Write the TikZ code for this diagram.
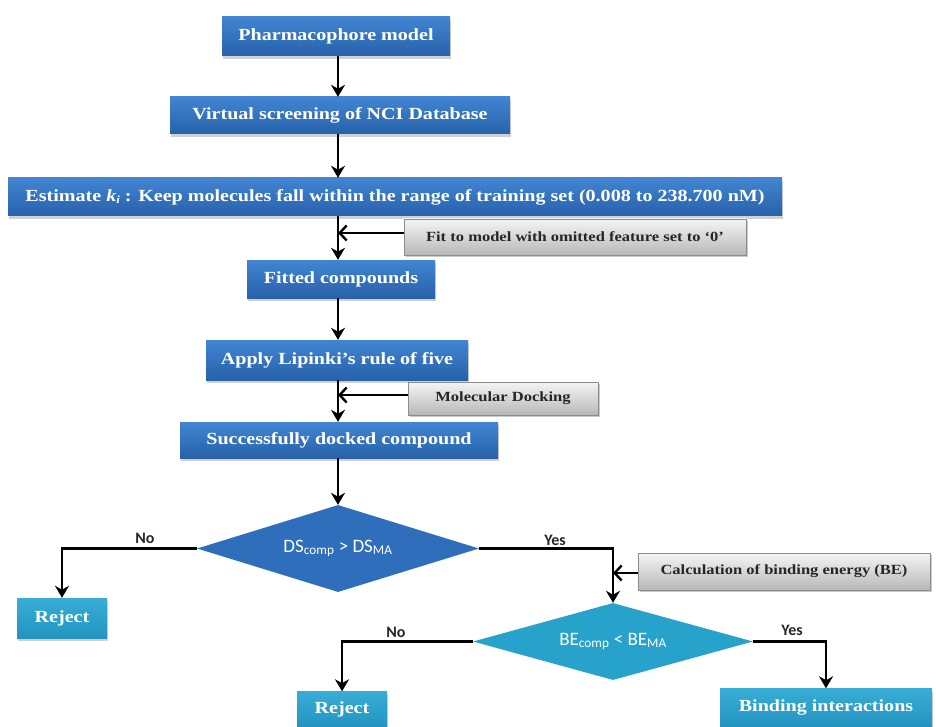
\documentclass[tikz,border=0pt]{standalone}
\usepackage{fontspec}
\setmainfont{Liberation Serif}
\newfontfamily\carlfont{Carlito}
\newfontfamily\widefont[FakeStretch=1.18,Ligatures=TeX]{Liberation Serif}
\usetikzlibrary{shapes.geometric,arrows.meta,shadows}
\definecolor{bluetop}{HTML}{4285D2}
\definecolor{bluebot}{HTML}{2761AA}
\definecolor{dsblue}{HTML}{2F6EBB}
\definecolor{cyantop}{HTML}{38ADD6}
\definecolor{cyanbot}{HTML}{2394C0}
\definecolor{becyan}{HTML}{27A3CB}
\definecolor{greyedge}{HTML}{8C8C8C}
\begin{document}
\begin{tikzpicture}[x=1pt,y=1pt,
  mainbox/.style={rectangle, inner sep=0pt, top color=bluetop, bottom color=bluebot,
    text=white, font=\widefont\bfseries\fontsize{17}{17}\selectfont,
    drop shadow={shadow xshift=1pt, shadow yshift=-3pt, opacity=0.3, fill=black!60}},
  cyanbox/.style={mainbox, top color=cyantop, bottom color=cyanbot},
  greybox/.style={rectangle, inner sep=0pt, draw=greyedge, line width=0.8pt,
    top color=black!4, bottom color=black!28, text=black!85,
    font=\widefont\bfseries\fontsize{14}{14}\selectfont,
    drop shadow={shadow xshift=1.5pt, shadow yshift=-2pt, opacity=0.35, fill=black!60}},
  decision/.style={diamond, inner sep=0pt, draw=none},
  dtext/.style={inner sep=0pt, text=white, font=\carlfont\fontsize{19}{19}\selectfont},
  arr/.style={line width=2.4pt, -{Stealth[length=12pt,width=14pt]}},
  sidearr/.style={line width=2.4pt, -{Straight Barb[length=7pt,width=15pt,line width=2.4pt]}},
  lbl/.style={font=\carlfont\bfseries\fontsize{16}{16}\selectfont, text=black!85, inner sep=0pt}
]
\useasboundingbox (0,0) rectangle (936,-727);

\node[mainbox, minimum width=228, minimum height=39] (pharma) at (336,-36.5) {Pharmacophore model};
\node[mainbox, minimum width=340, minimum height=37] (virtual) at (340,-115.5) {Virtual screening of NCI Database};
\node[mainbox, minimum width=774, minimum height=38] (estimate) at (395,-197)
  {Estimate \textit{k}\raisebox{-0.35ex}{\fontsize{11}{11}\selectfont\textit{i}} : Keep molecules fall within the range of training set (0.008 to 238.700 nM)};
\node[greybox, minimum width=342, minimum height=36] (fit) at (575,-237) {Fit to model with omitted feature set to `0'};
\node[mainbox, minimum width=188, minimum height=38] (fitted) at (341,-279) {Fitted compounds};
\node[mainbox, minimum width=262, minimum height=40] (apply) at (337,-360) {Apply Lipinki's rule of five};
\node[greybox, minimum width=190, minimum height=33] (dock) at (503,-398.5) {Molecular Docking};
\node[mainbox, minimum width=318, minimum height=36] (docked) at (339,-440) {Successfully docked compound};
\node[decision, fill=dsblue, minimum width=282, minimum height=87] (ds) at (338,-548.5) {};
\node[dtext] (dstext) at (ds.center) {DS\textsubscript{comp} > DS\textsubscript{MA}};
\node[cyanbox, minimum width=90, minimum height=40] (rej1) at (62,-618) {Reject};
\node[greybox, minimum width=292, minimum height=37] (calc) at (784,-571.5) {Calculation of binding energy (BE)};
\node[decision, fill=becyan, minimum width=280, minimum height=77] (be) at (613,-641.5) {};
\node[dtext] (betext) at (be.center) {BE\textsubscript{comp} < BE\textsubscript{MA}};
\node[cyanbox, minimum width=90, minimum height=35] (rej2) at (342,-709) {Reject};
\node[cyanbox, minimum width=212, minimum height=38] (bind) at (826,-707.5) {Binding interactions};

\coordinate (c1) at (338,-233);
\coordinate (c2) at (338,-395);
\coordinate (c3) at (613,-573);

\draw[arr] (338,0 |- pharma.south) -- (338,0 |- virtual.north);
\draw[arr] (338,0 |- virtual.south) -- (338,0 |- estimate.north);
\draw[arr] (338,0 |- estimate.south) -- (338,0 |- fitted.north);
\draw[sidearr] (fit.west |- c1) -- (c1);
\draw[arr] (338,0 |- fitted.south) -- (338,0 |- apply.north);
\draw[arr] (338,0 |- apply.south) -- (338,0 |- docked.north);
\draw[sidearr] (dock.west |- c2) -- (c2);
\draw[arr] (338,0 |- docked.south) -- (ds.north);
\draw[arr] (ds.west) -| (rej1.north);
\draw[arr] (ds.east) -| (be.north);
\draw[sidearr] (calc.west |- c3) -- (c3);
\draw[arr] (be.west) -| (rej2.north);
\draw[arr] (be.east) -| (bind.north);

\node[lbl] (no1) at (145,-538) {No};
\node[lbl] (yes1) at (555,-540) {Yes};
\node[lbl] (no2) at (396,-632) {No};
\node[lbl] (yes2) at (792,-630) {Yes};
\end{tikzpicture}
\end{document}
